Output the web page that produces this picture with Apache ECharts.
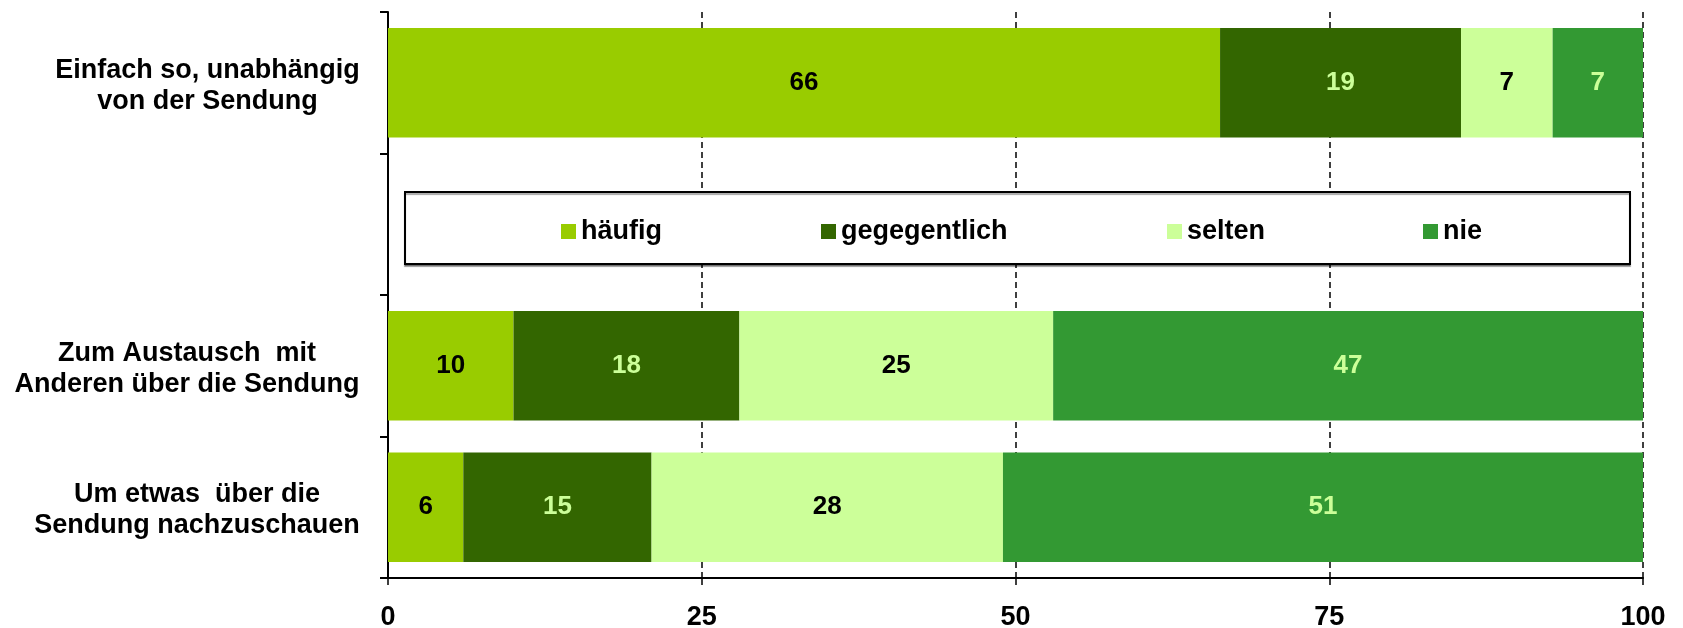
<!DOCTYPE html>
<html>
<head>
<meta charset="utf-8">
<script src="https://cdn.jsdelivr.net/npm/echarts@6/dist/echarts.min.js"></script>
<style>
  html, body { margin: 0; padding: 0; background: #fff; }
  #chart { width: 1683px; height: 628px; }
</style>
</head>
<body>
<div id="chart"></div>
<script>
// Kategorien von oben nach unten (leere Zeile = Platz für die Legende)
const categories = [
  "Einfach so, unabhängig\nvon der Sendung",
  "",
  "Zum Austausch  mit\nAnderen über die Sendung",
  "Um etwas  über die\nSendung nachzuschauen",
];
const seriesNames = ["häufig", "gegegentlich", "selten", "nie"];
const haeufig = [66.3, "-", 10, 6];
const gelegentlich = [19.2, "-", 18, 15];
const selten = [7.3, "-", 25, 28];
const nie = [7.2, "-", 47, 51];
const xTicks = [0, 25, 50, 75, 100];

const FONT = '"Liberation Sans", Arial, sans-serif';
const colors = ["#99CC00", "#336600", "#CCFF99", "#339933"];
const labelColors = ["#000", "#CCFF99", "#000", "#CCFF99"];

// Breite der längsten Zeile je Kategorie messen, damit die Zeilen zentriert stehen
const ctx = document.createElement("canvas").getContext("2d");
ctx.font = "bold 27px " + FONT;
const rich = {};
categories.forEach((c, i) => {
  const w = Math.max(0, ...c.split("\n").map((l) => ctx.measureText(l).width));
  rich["c" + i] = {
    width: Math.ceil(w),
    align: "center",
    fontFamily: FONT,
    fontWeight: "bold",
    fontSize: 27,
    lineHeight: 31,
    color: "#000",
  };
});

const chart = echarts.init(document.getElementById("chart"));
const dataArr = [haeufig, gelegentlich, selten, nie];

const series = seriesNames.map((name, i) => ({
  name: name,
  type: "bar",
  stack: "total",
  data: dataArr[i],
  barCategoryGap: "22.5%",
  itemStyle: { color: colors[i] },
  label: {
    show: true,
    position: "inside",
    formatter: (p) => Math.round(p.value),
    color: labelColors[i],
    fontFamily: FONT,
    fontWeight: "bold",
    fontSize: 26,
  },
}));

// Legende: jedes Element einzeln platziert
const legendLeft = [561, 821, 1167, 1423];
const legend = seriesNames.map((name, i) => ({
  data: [name],
  left: legendLeft[i],
  top: 218,
  padding: 0,
  itemWidth: 15,
  itemHeight: 15,
  icon: "rect",
  selectedMode: false,
  textStyle: {
    fontFamily: FONT,
    fontWeight: "bold",
    fontSize: 27,
    color: "#000",
  },
}));

chart.setOption({
  animation: false,
  color: colors,
  grid: { left: 388, right: 40, top: 12, bottom: 50, outerBoundsMode: "none" },
  legend: legend,
  graphic: [
    {
      type: "rect",
      z: 3,
      shape: { x: 405, y: 192, width: 1225, height: 72 },
      style: {
        fill: "#fff",
        stroke: "#000",
        lineWidth: 2,
        shadowColor: "rgba(0,0,0,0.35)",
        shadowOffsetY: 2,
        shadowBlur: 1,
      },
    },
  ],
  xAxis: {
    type: "value",
    min: xTicks[0],
    max: xTicks[xTicks.length - 1],
    interval: 25,
    axisLine: { show: true, lineStyle: { color: "#000", width: 2 } },
    axisTick: { show: true, length: 7, lineStyle: { color: "#000", width: 1.5 } },
    axisLabel: {
      margin: 26,
      color: "#000",
      fontFamily: FONT,
      fontWeight: "bold",
      fontSize: 27,
    },
    splitLine: {
      show: true,
      lineStyle: { color: "#000", width: 1.5, type: [6, 4] },
    },
  },
  yAxis: {
    type: "category",
    inverse: true,
    data: categories,
    axisLine: { show: true, lineStyle: { color: "#000", width: 2 } },
    axisTick: { show: true, length: 8, lineStyle: { color: "#000", width: 2 } },
    axisLabel: {
      margin: 28,
      padding: [6, 0, 0, 0],
      formatter: (v, i) =>
        v ? v.split("\n").map((l) => "{c" + i + "|" + l + "}").join("\n") : "",
      rich: rich,
    },
    splitLine: { show: false },
  },
  series: series,
});
</script>
</body>
</html>
